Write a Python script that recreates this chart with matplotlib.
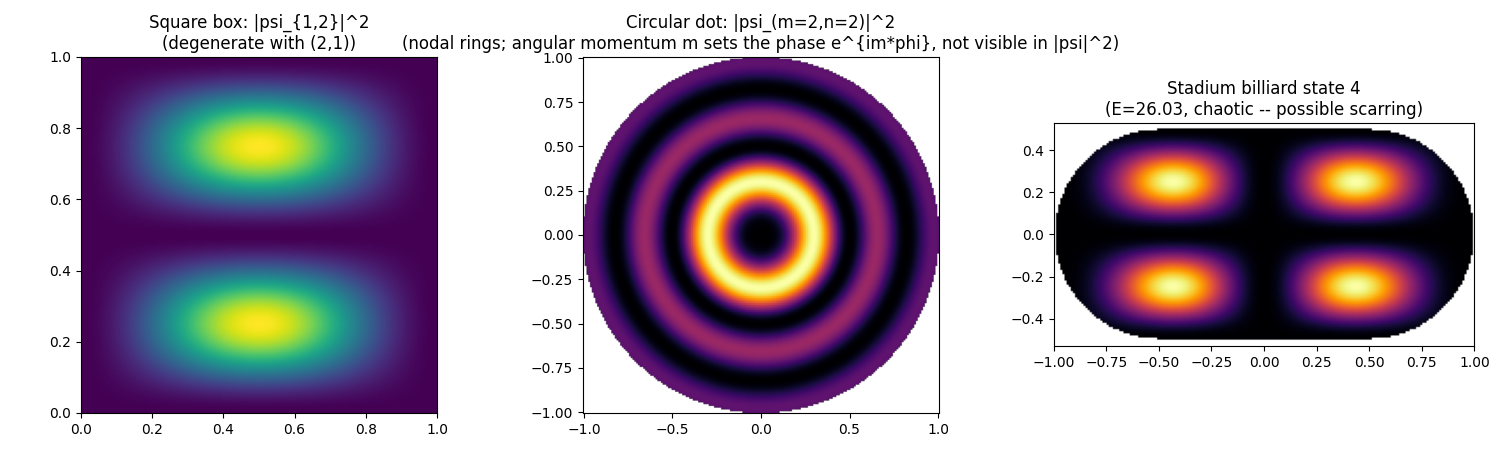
import numpy as np
import matplotlib
matplotlib.use("Agg")
import matplotlib.pyplot as plt

titles = ["Square box: |psi_{1,2}|^2\n(degenerate with (2,1))",
          "Circular dot: |psi_(m=2,n=2)|^2\n(nodal rings; angular momentum m sets the phase e^{im*phi}, not visible in |psi|^2)",
          "Stadium billiard state 4\n(E=26.03, chaotic -- possible scarring)"]
box_n = (1, 2)
dot_m = 2
dot_k = 10.2
stadium_a = 0.5   # half-length of straight section
stadium_r = 0.5   # radius

def besselj(m, x):
    t = np.linspace(0, np.pi, 400)
    return np.trapezoid(np.cos(m * t[None, :] - x.ravel()[:, None] * np.sin(t[None, :])), t, axis=1).reshape(x.shape) / np.pi

fig = plt.figure(figsize=(15, 4.5), dpi=100)

# Panel 1
ax1 = fig.add_axes([80/1500, 1-413/450, 358/1500, 356/450])
x = np.linspace(0, 1, 200)
X, Y = np.meshgrid(x, x)
P = (np.sin(box_n[0]*np.pi*X)*np.sin(box_n[1]*np.pi*Y))**2
ax1.imshow(P, origin="lower", extent=[0, 1, 0, 1], cmap="viridis", aspect="equal")
ax1.set_title(titles[0], fontsize=12)

# Panel 2
ax2 = fig.add_axes([582/1500, 1-413/450, 358/1500, 356/450])
g = np.linspace(-1, 1, 201)
X, Y = np.meshgrid(g, g)
R = np.hypot(X, Y)
P = besselj(dot_m, dot_k*R)**2
P = np.ma.masked_where(R > 1.005, P)
ax2.imshow(P, origin="lower", extent=[-1.005, 1.005, -1.005, 1.005], cmap="inferno", aspect="equal")
ax2.set_xlim(-1.005, 1.005); ax2.set_ylim(-1.005, 1.005)
ax2.set_title(titles[1], fontsize=12)

# Panel 3
ax3 = fig.add_axes([1053/1500, 1-346/450, 422/1500, 223/450])
xs = np.linspace(-1, 1, 200)
ys = np.linspace(-0.53, 0.53, 106)
X, Y = np.meshgrid(xs, ys)
d = np.hypot(np.abs(X)-stadium_a, Y)
inside = ((np.abs(X) <= stadium_a) | (d <= stadium_r)) & (np.abs(Y) <= stadium_r)
P = (np.sin(np.pi*X)*np.sqrt(np.clip(np.cos(np.pi*X/2), 0, None))*np.sin(2*np.pi*Y))**2
P = np.ma.masked_where(~inside, P)
ax3.imshow(P, origin="lower", extent=[-1, 1, -0.53, 0.53], cmap="inferno", aspect="equal")
ax3.set_title(titles[2], fontsize=12)

fig.savefig("out.png", dpi=100)
